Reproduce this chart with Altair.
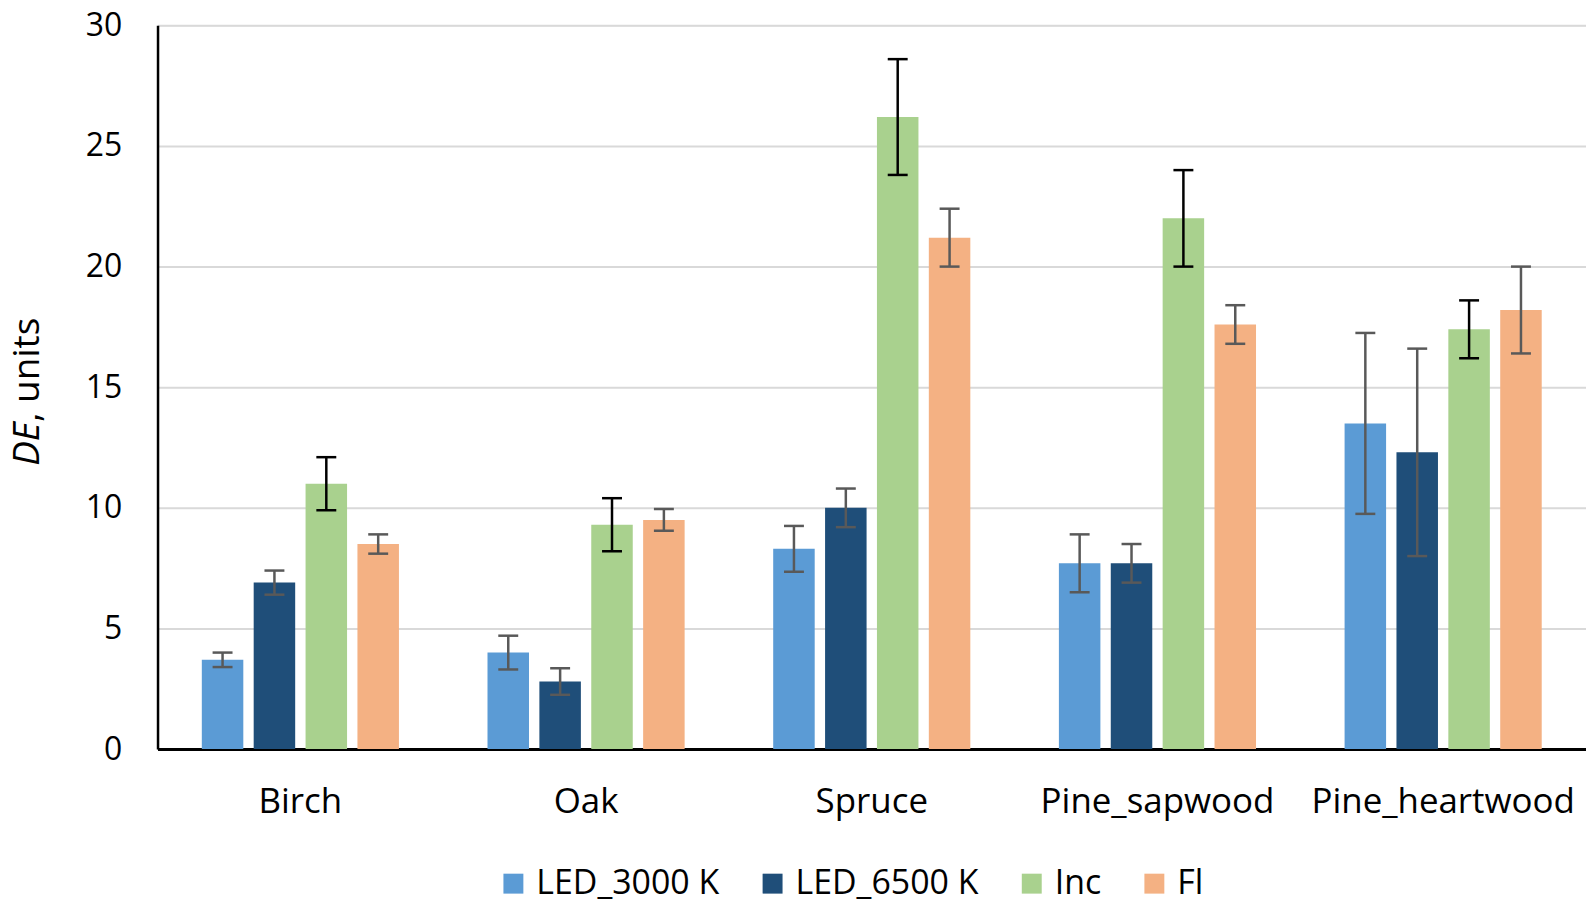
import altair as alt
import pandas as pd

woods = ["Birch", "Oak", "Spruce", "Pine_sapwood", "Pine_heartwood"]
series = ["LED_3000 K", "LED_6500 K", "Inc", "Fl"]
colors = ["#5B9BD5", "#1F4E79", "#A9D18E", "#F4B183"]
err_colors = ["#595959", "#595959", "#000000", "#595959"]

led3000 = [3.7, 4.0, 8.3, 7.7, 13.5]
led3000_err = [0.3, 0.7, 0.95, 1.2, 3.75]
led6500 = [6.9, 2.8, 10.0, 7.7, 12.3]
led6500_err = [0.5, 0.55, 0.8, 0.8, 4.3]
inc = [11.0, 9.3, 26.2, 22.0, 17.4]
inc_err = [1.1, 1.1, 2.4, 2.0, 1.2]
fl = [8.5, 9.5, 21.2, 17.6, 18.2]
fl_err = [0.4, 0.45, 1.2, 0.8, 1.8]

values = [led3000, led6500, inc, fl]
errors = [led3000_err, led6500_err, inc_err, fl_err]

rows = []
for si, s in enumerate(series):
    for wi, w in enumerate(woods):
        v = values[si][wi]
        e = errors[si][wi]
        rows.append({"wood": w, "series": s, "value": v,
                     "lo": v - e, "hi": v + e, "ecolor": err_colors[si]})
df = pd.DataFrame(rows)

FONT = "Open Sans"

x_enc = alt.X("wood:N", sort=woods,
              scale=alt.Scale(paddingInner=0.31, paddingOuter=0.155),
              axis=alt.Axis(title=None, labelFontSize=35, labelFont=FONT,
                            labelColor="#000000", labelPadding=36, ticks=False,
                            labelLimit=0, domainColor="#000000", domainWidth=3,
                            labelAngle=0))
xo_enc = alt.XOffset("series:N", sort=series,
                     scale=alt.Scale(paddingInner=0.2, paddingOuter=0))

base = alt.Chart(df)

bars = base.mark_bar(opacity=1, fillOpacity=1).encode(
    x=x_enc,
    xOffset=xo_enc,
    y=alt.Y("value:Q", scale=alt.Scale(domain=[0, 30]),
            axis=alt.Axis(title=None, values=[0, 5, 10, 15, 20, 25, 30],
                          labelFontSize=32, labelFont=FONT, labelColor="#000000",
                          labelPadding=36, ticks=False, domainColor="#000000",
                          domainWidth=2.5, gridColor="#D9D9D9", gridWidth=2)),
    color=alt.Color("series:N", sort=series,
                    scale=alt.Scale(domain=series, range=colors),
                    legend=alt.Legend(title=None, orient="none", legendX=340,
                                      legendY=844, direction="horizontal",
                                      columns=4, symbolType="square",
                                      symbolSize=400, symbolStrokeWidth=0,
                                      symbolOpacity=1, labelLimit=0,
                                      labelFontSize=34, labelFont=FONT,
                                      labelColor="#000000", columnPadding=36,
                                      labelOffset=6)),
)

rules = base.mark_rule(strokeWidth=2.5, opacity=1).encode(
    x=alt.X("wood:N", sort=woods),
    xOffset=xo_enc,
    y="lo:Q",
    y2="hi:Q",
    color=alt.Color("ecolor:N", scale=None, legend=None),
)

caps_hi = base.mark_tick(size=20, thickness=2.5, opacity=1).encode(
    x=alt.X("wood:N", sort=woods),
    xOffset=xo_enc,
    y="hi:Q",
    color=alt.Color("ecolor:N", scale=None, legend=None),
)
caps_lo = base.mark_tick(size=20, thickness=2.5, opacity=1).encode(
    x=alt.X("wood:N", sort=woods),
    xOffset=xo_enc,
    y="lo:Q",
    color=alt.Color("ecolor:N", scale=None, legend=None),
)

t1 = alt.Chart(pd.DataFrame({"t": ["DE"]})).mark_text(
    angle=270, align="right", baseline="middle", fontSize=37, font=FONT,
    fontStyle="italic", color="#000000"
).encode(x=alt.value(-130), y=alt.value(398), text="t:N")
t2 = alt.Chart(pd.DataFrame({"t": [", units"]})).mark_text(
    angle=270, align="left", baseline="middle", fontSize=37, font=FONT,
    color="#000000"
).encode(x=alt.value(-130), y=alt.value(398), text="t:N")

chart = alt.layer(bars, rules, caps_hi, caps_lo, t1, t2).properties(
    width=1433, height=726,
    autosize=alt.AutoSizeParams(type="none"),
    padding={"left": 150, "top": 16, "right": 0, "bottom": 156},
).configure_view(stroke=None).configure_legend(symbolOpacity=1).configure(
    background="#FFFFFF")

chart.save("out.html", embed_options={"renderer": "svg", "actions": False})
